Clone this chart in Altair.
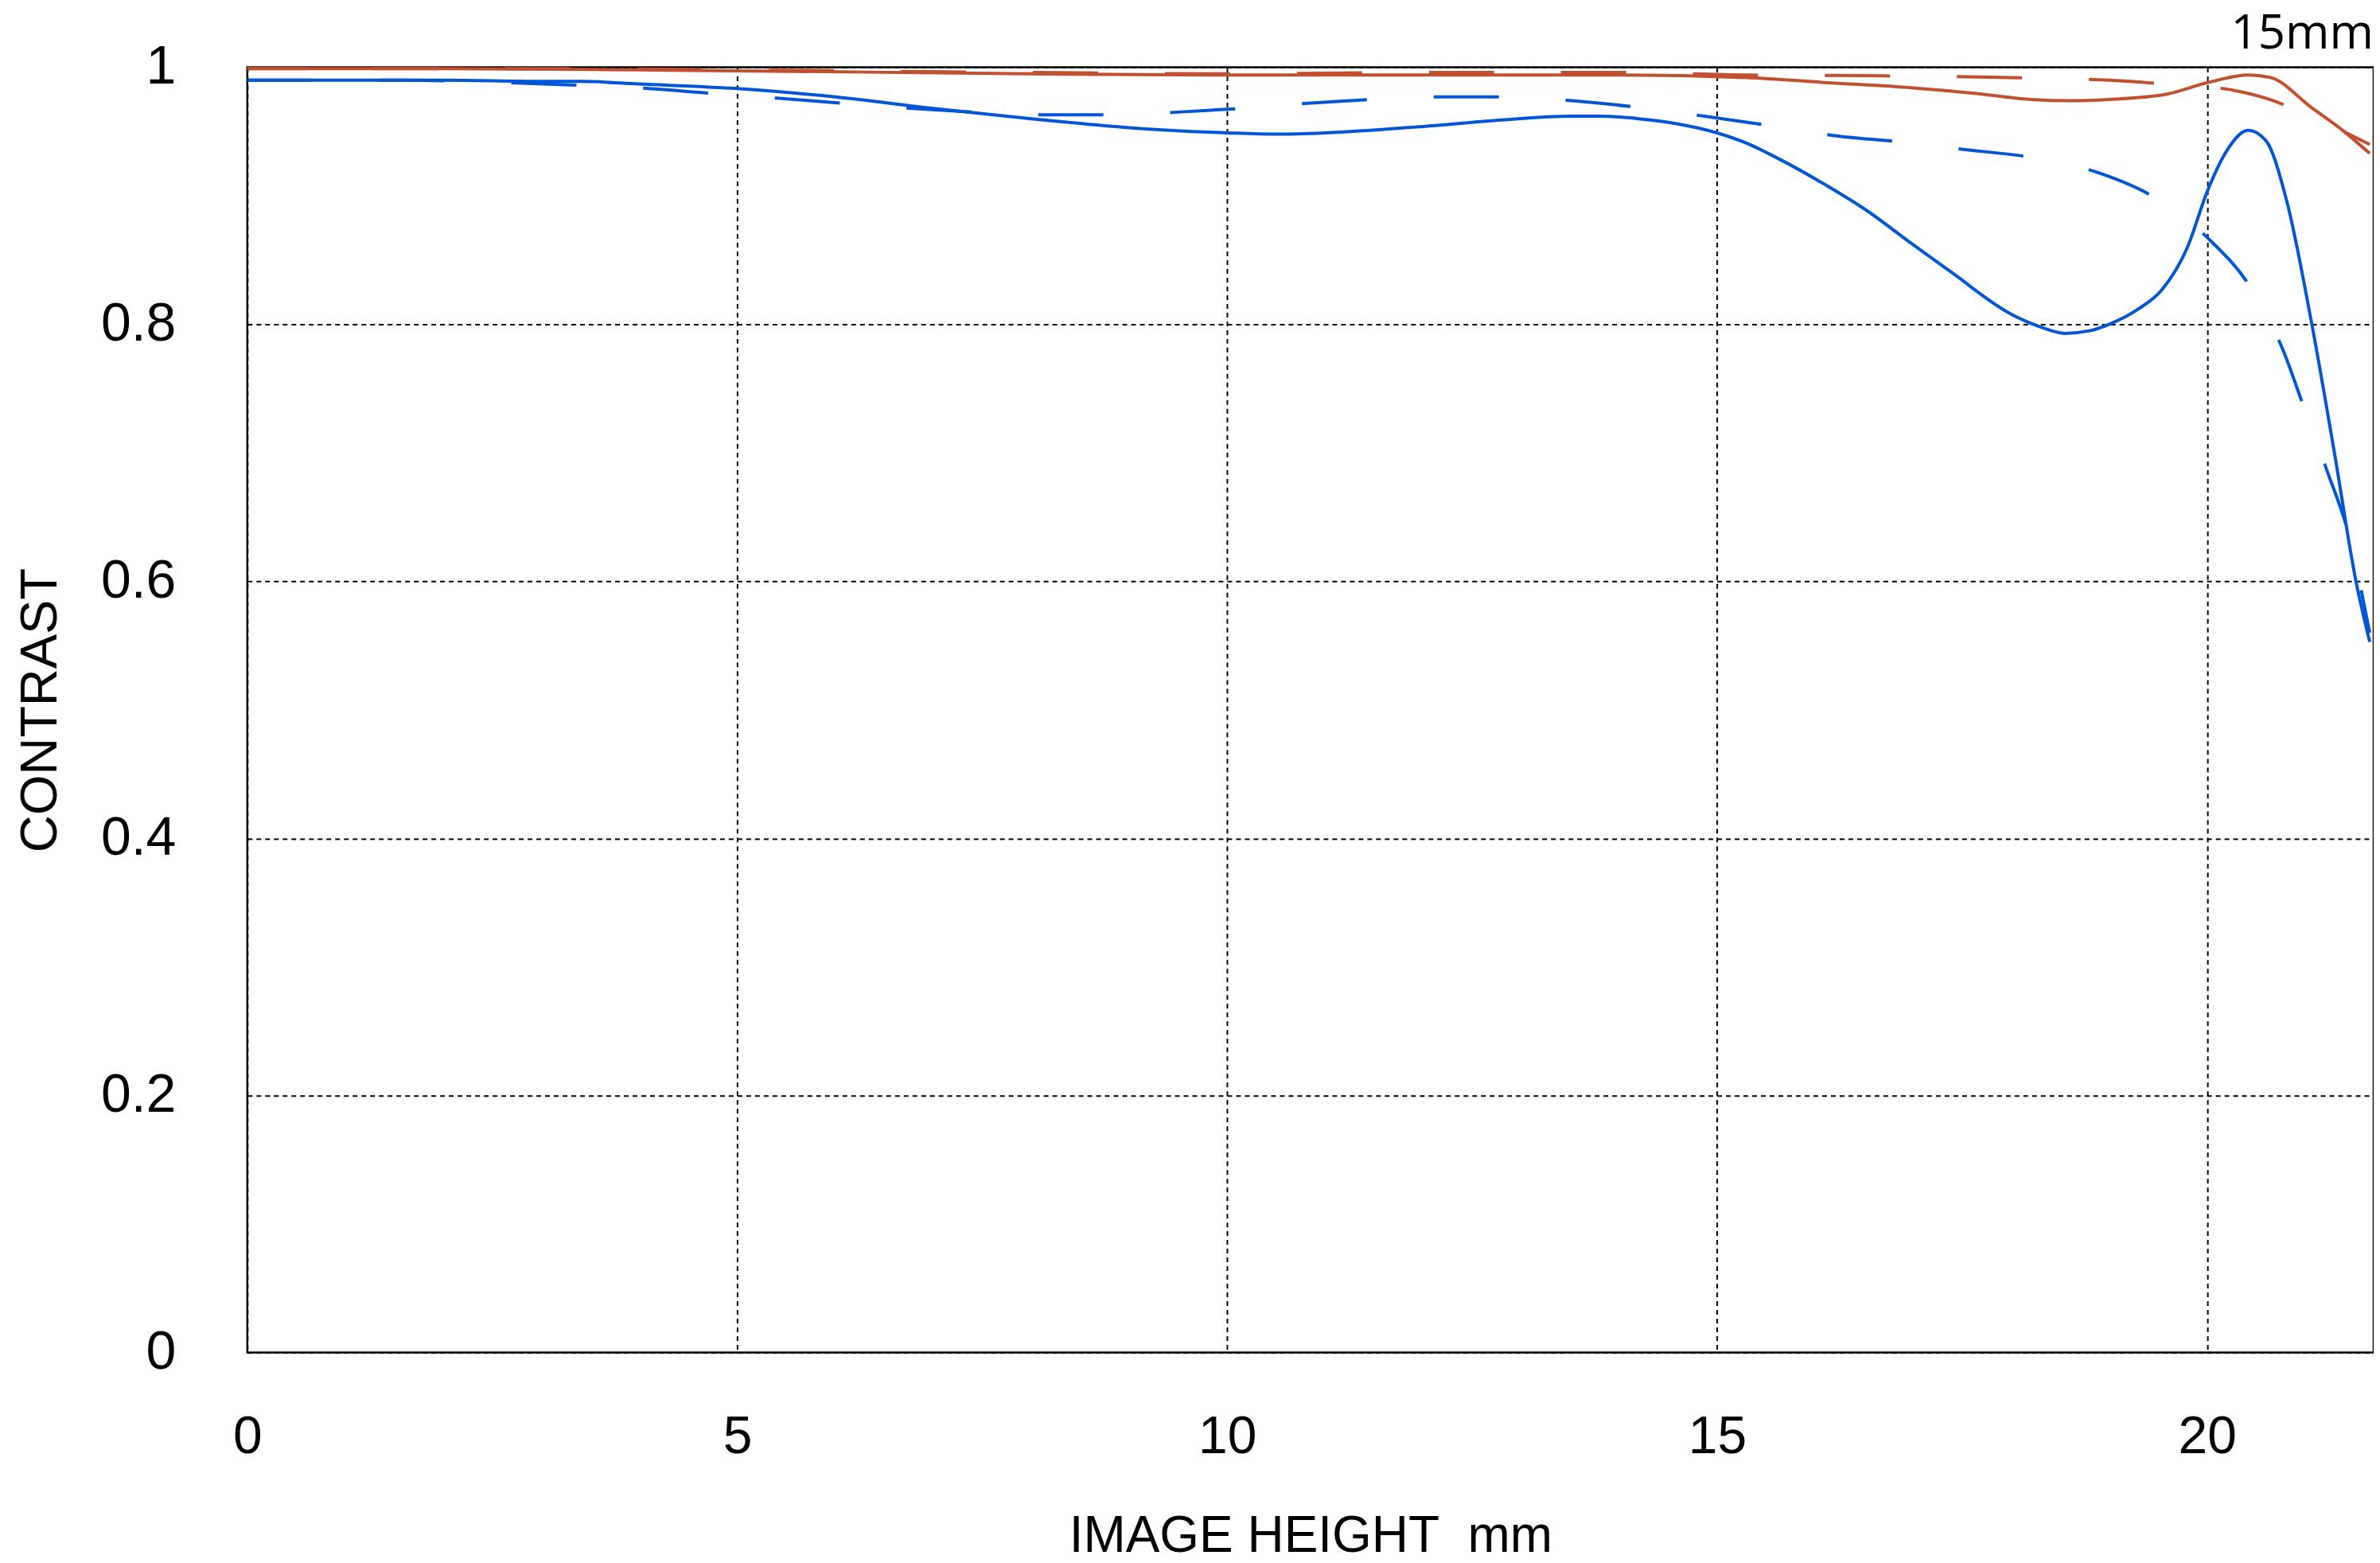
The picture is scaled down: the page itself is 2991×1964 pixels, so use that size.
import altair as alt
import pandas as pd

# Image height (mm) and contrast values
red_solid_x = [0, 2, 4, 5.4, 8, 10, 12, 14, 15.3, 16.14, 17, 17.6, 18.2, 18.6, 19.0, 19.58, 20.0, 20.42, 20.65, 21.06, 21.4, 21.66]
red_solid_y = [0.999, 0.999, 0.998, 0.997, 0.995, 0.994, 0.994, 0.994, 0.992, 0.988, 0.984, 0.980, 0.975, 0.974, 0.975, 0.979, 0.988, 0.994, 0.992, 0.969, 0.950, 0.933]

red_dash_x = [0, 3, 5, 8, 10, 12, 14, 15.3, 16.5, 18, 19, 19.6, 20.0, 20.28, 20.6, 20.91, 21.2, 21.53, 21.66]
red_dash_y = [0.999, 0.999, 0.998, 0.996, 0.995, 0.996, 0.996, 0.994, 0.9935, 0.992, 0.990, 0.987, 0.985, 0.982, 0.976, 0.967, 0.957, 0.945, 0.940]

blue_solid_x = [0, 1, 2, 3, 3.4, 4, 5, 6, 7, 8, 8.4, 9, 10, 10.5, 11, 12, 12.8, 13.5, 13.8, 14.2, 14.6, 15, 15.3, 15.65,
                16.14, 16.5, 17, 17.4, 18, 18.3, 18.55, 18.8, 19.0, 19.3, 19.54, 19.8, 20.0, 20.2, 20.42, 20.6, 20.81,
                21.06, 21.3, 21.52, 21.66]
blue_solid_y = [0.990, 0.990, 0.990, 0.989, 0.989, 0.987, 0.9835, 0.977, 0.968, 0.960, 0.957, 0.953, 0.949, 0.948, 0.949,
                0.954, 0.959, 0.962, 0.962, 0.960, 0.956, 0.949, 0.941, 0.928, 0.907, 0.890, 0.862, 0.840, 0.808, 0.798,
                0.793, 0.795, 0.800, 0.812, 0.827, 0.860, 0.903, 0.935, 0.951, 0.943, 0.897, 0.804, 0.700, 0.600, 0.553]

blue_dash_x = [0, 1.5, 2.7, 3.4, 4.0, 4.7, 5.4, 6.09, 6.79, 7.44, 8.12, 8.78, 9.46, 10.13, 10.82, 11.47, 12.16, 12.83,
               13.52, 14.18, 14.87, 15.51, 16.18, 16.86, 17.53, 18.2, 18.85, 19.48, 20.01, 20.45, 20.77, 21.0, 21.23,
               21.44, 21.66]
blue_dash_y = [0.990, 0.990, 0.988, 0.986, 0.984, 0.980, 0.976, 0.972, 0.968, 0.965, 0.963, 0.963, 0.965, 0.968, 0.972,
               0.975, 0.977, 0.977, 0.974, 0.969, 0.962, 0.955, 0.947, 0.942, 0.936, 0.930, 0.919, 0.898, 0.867, 0.828,
               0.781, 0.733, 0.685, 0.638, 0.560]

x_ticks = [0, 5, 10, 15, 20]
y_ticks = [0, 0.2, 0.4, 0.6, 0.8, 1.0]
x_domain = [0, 21.7]
y_domain = [0, 1]

RED = "#C1502E"
BLUE = "#0056D6"

W, H = 2674, 1616

x_enc = alt.X(
    "h:Q",
    scale=alt.Scale(domain=x_domain, nice=False, zero=False),
    axis=alt.Axis(
        values=x_ticks, format="d", title="IMAGE HEIGHT\u00a0 mm",
        labelFont="Liberation Sans", labelFontSize=66, labelPadding=74, labelColor="black",
        labelFlush=False, ticks=False, domain=False,
        grid=True, gridColor="black", gridDash=[6, 5], gridWidth=2, gridOpacity=1,
        titleFont="Liberation Sans", titleFontSize=64, titleFontWeight="normal", titleColor="black",
        titleX=W / 2, titleY=250, titleBaseline="alphabetic", titleAlign="center",
    ),
)
y_enc = alt.Y(
    "c:Q",
    scale=alt.Scale(domain=y_domain, nice=False, zero=False),
    axis=alt.Axis(
        values=y_ticks, format=".1~f", title="CONTRAST",
        labelFont="Liberation Sans", labelFontSize=68, labelPadding=90, labelColor="black",
        labelFlush=False, ticks=False, domain=False,
        grid=True, gridColor="black", gridDash=[6, 5], gridWidth=2, gridOpacity=1,
        titleFont="Liberation Sans", titleFontSize=65, titleFontWeight="normal", titleColor="black",
        titleX=-240, titleY=H / 2, titleAngle=-90, titleBaseline="alphabetic", titleAlign="center",
    ),
)


def series(xs, ys):
    return pd.DataFrame({"h": xs, "c": ys})


LW = 4
bd = alt.Chart(series(blue_dash_x, blue_dash_y)).mark_line(
    color=BLUE, strokeWidth=LW, strokeDash=[82, 84], interpolate="monotone"
).encode(x=x_enc, y=y_enc)
bs = alt.Chart(series(blue_solid_x, blue_solid_y)).mark_line(
    color=BLUE, strokeWidth=LW, interpolate="monotone"
).encode(x="h:Q", y="c:Q")
rd = alt.Chart(series(red_dash_x, red_dash_y)).mark_line(
    color=RED, strokeWidth=LW, strokeDash=[82, 84], strokeDashOffset=8, interpolate="monotone"
).encode(x="h:Q", y="c:Q")
rs = alt.Chart(series(red_solid_x, red_solid_y)).mark_line(
    color=RED, strokeWidth=LW, interpolate="monotone"
).encode(x="h:Q", y="c:Q")

chart = alt.layer(bd, bs, rd, rs).properties(
    width=W, height=H,
    background="white",
    autosize=alt.AutoSizeParams(type="none"),
    padding={"left": 303, "top": 76, "right": 0, "bottom": 264},
    title=alt.TitleParams(
        text="15mm", anchor="end", frame="group", font="Open Sans", fontSize=60, fontWeight="normal",
        color="black", baseline="alphabetic", offset=27, dy=97,
    ),
).configure_view(stroke="black", strokeWidth=2.5)

chart.save("out.html", embed_options={"renderer": "svg", "actions": False})
